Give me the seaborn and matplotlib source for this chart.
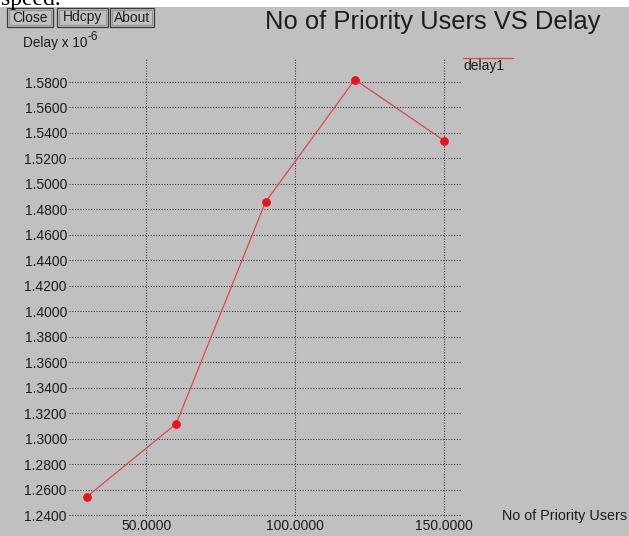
"""
No of Priority Users VS Delay -- xgraph style screenshot redrawn with seaborn
"""

import matplotlib
matplotlib.use('Agg')
import matplotlib.pyplot as plt
from matplotlib.patches import Rectangle
from matplotlib.lines import Line2D
import seaborn as sns
import pandas as pd

# Data
priority_users = [30, 60, 90, 120, 150]
delay = [1.2545, 1.3118, 1.4858, 1.5819, 1.5340]
x_ticks = [50, 100, 150]
y_ticks = [1.24, 1.26, 1.28, 1.30, 1.32, 1.34, 1.36, 1.38, 1.40,
           1.42, 1.44, 1.46, 1.48, 1.50, 1.52, 1.54, 1.56, 1.58]
series_name = 'delay1'
buttons = ['Close', 'Hdcpy', 'About']

W, H = 629, 536
BG = '#c0c0c0'
INK = '#1c1c1c'
RED = '#e8141c'


def fx(x):
    return x / W


def fy(y):
    return 1 - y / H


sns.set_style('white')
plt.rcParams['font.family'] = ['Liberation Sans', 'DejaVu Sans']

fig = plt.figure(figsize=(W / 100, H / 100), dpi=100, facecolor=BG)

# plot area
ax = fig.add_axes([fx(69), fy(517.6), (462 - 69) / W, (517.6 - 58.7) / H])
ax.set_facecolor(BG)

df = pd.DataFrame({'users': priority_users, 'delay': delay})
sns.lineplot(data=df, x='users', y='delay', ax=ax, color='#e04848', lw=0.9,
             marker='o', markersize=5.5, markerfacecolor=RED,
             markeredgecolor=RED, zorder=3)

ax.set_xlim(24, 156)
ax.set_ylim(1.2381, 1.5983)
ax.set_xticks(x_ticks)
ax.set_yticks(y_ticks)
ax.set_xticklabels([f'{v:.4f}' for v in x_ticks])
ax.set_yticklabels([f'{v:.4f}' for v in y_ticks])
ax.set_xlabel('')
ax.set_ylabel('')
ax.grid(True, color='#303030', lw=0.75, linestyle=(0, (1, 1.6)))
for s in ax.spines.values():
    s.set_visible(False)
ax.tick_params(direction='in', length=4, width=0.75, color='#404040',
               labelsize=10, labelcolor=INK)
ax.tick_params(axis='y', pad=1.5)
ax.tick_params(axis='x', pad=1)

# top white strip with the cut document text
fig.patches.append(Rectangle((0, fy(7)), 1, 7 / H, transform=fig.transFigure,
                             facecolor='white', edgecolor='none', zorder=0))
fig.text(fx(1), fy(4.5), 'speed.', family='Liberation Serif', fontsize=17,
         color='black', va='baseline', ha='left')

# buttons (double border, xgraph look)
btn_boxes = [(7, 53), (57, 108), (110, 154)]
for label, (x0, x1) in zip(buttons, btn_boxes):
    fig.patches.append(Rectangle((fx(x0), fy(26.5)), (x1 - x0) / W, 18.5 / H,
                                 transform=fig.transFigure, facecolor=BG,
                                 edgecolor='#3a3a3a', lw=0.9))
    fig.patches.append(Rectangle((fx(x0 + 2), fy(24.5)), (x1 - x0 - 4) / W,
                                 14.5 / H, transform=fig.transFigure,
                                 facecolor='none', edgecolor='#8a8a8a', lw=0.6))
    fig.text(fx((x0 + x1) / 2), fy(21.5), label, fontsize=10, color=INK,
             ha='center', va='baseline')

# title and axis labels
fig.text(fx(265), fy(22), 'No of Priority Users VS Delay', fontsize=18.4,
         color=INK, ha='left', va='center')
fig.text(fx(23), fy(46.5), 'Delay x 10', fontsize=9.8, color=INK,
         ha='left', va='baseline')
fig.text(fx(88), fy(39.5), '-6', fontsize=8.5, color=INK,
         ha='left', va='baseline')
fig.text(fx(502), fy(516), 'No of Priority Users', fontsize=10.4, color=INK,
         ha='left', va='center')

# legend
fig.lines.append(Line2D([fx(463), fx(513)], [fy(58), fy(58)],
                        transform=fig.transFigure, color='#e04848', lw=0.9))
fig.text(fx(463), fy(66), series_name, fontsize=10, color=INK,
         ha='left', va='center')

plt.savefig('out.png', dpi=100, facecolor=BG)
plt.close()
